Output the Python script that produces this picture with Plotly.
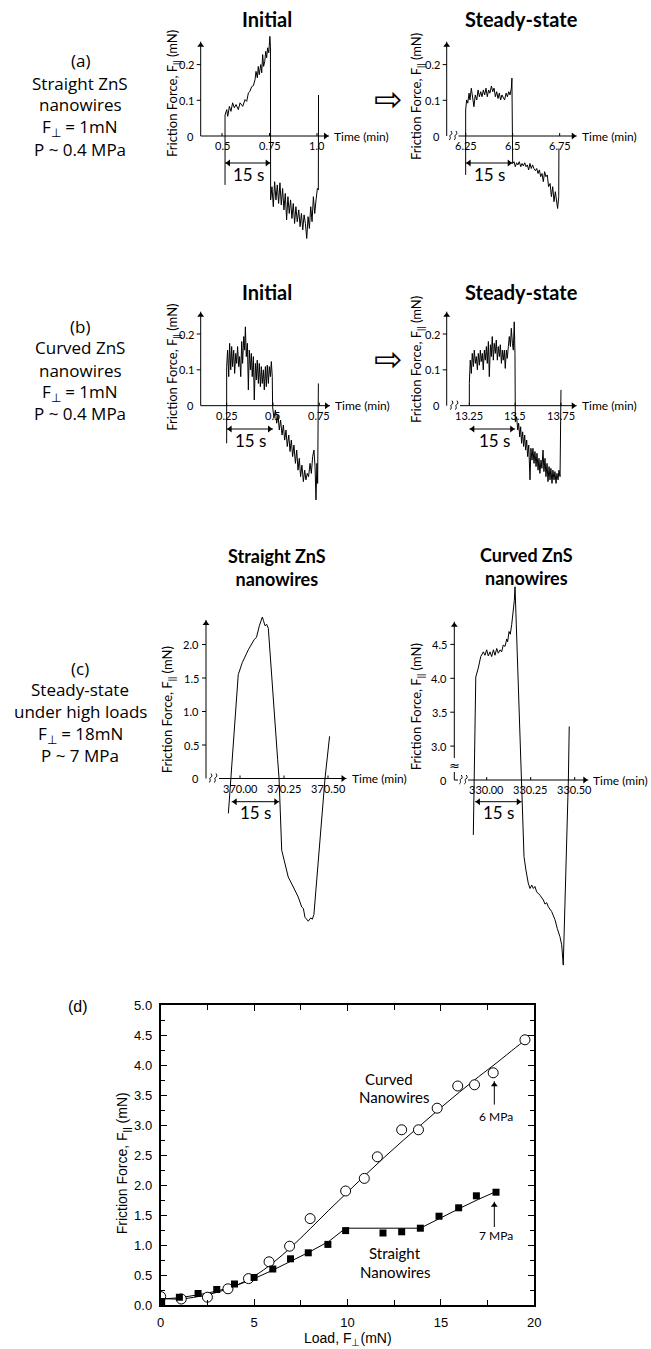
import math
import plotly.graph_objects as go

W, H = 651, 1349
TXT = "Lato, 'Open Sans', sans-serif"
BODY = "'Open Sans', Lato, sans-serif"
ARIAL = "'Liberation Sans', Arial, sans-serif"
SYM = "'DejaVu Sans', sans-serif"
BLACK = "black"

# ---------------- data ----------------
# (a) straight ZnS nanowires, F_perp = 1 mN : friction force (mN) vs time (min)
a_init_time = [0.516, 0.516, 0.525, 0.530, 0.539, 0.547, 0.556, 0.565, 0.574, 0.586, 0.595, 0.609, 0.621, 0.630,
               0.639, 0.647, 0.656, 0.665, 0.674, 0.679, 0.686, 0.691, 0.696, 0.704, 0.709, 0.714, 0.719, 0.725,
               0.730, 0.735, 0.740, 0.746, 0.752, 0.755, 0.756, 0.763, 0.770, 0.777, 0.784, 0.791, 0.798, 0.805,
               0.812, 0.819, 0.826, 0.833, 0.840, 0.847, 0.854, 0.861, 0.868, 0.875, 0.882, 0.889, 0.896, 0.904,
               0.911, 0.918, 0.925, 0.932, 0.939, 0.946, 0.953, 0.960, 0.967, 0.974, 0.981, 0.988, 0.995, 1.002,
               1.007, 1.008]
a_init_force = [-0.137, 0.059, 0.074, 0.055, 0.083, 0.069, 0.093, 0.079, 0.088, 0.074, 0.093, 0.083, 0.102, 0.097,
                0.121, 0.125, 0.138, 0.141, 0.158, 0.181, 0.163, 0.195, 0.172, 0.200, 0.177, 0.228, 0.195, 0.209,
                0.237, 0.219, 0.247, 0.233, 0.279, 0.250, -0.179, -0.142, -0.198, -0.128, -0.179, -0.137, -0.189,
                -0.131, -0.193, -0.147, -0.207, -0.161, -0.235, -0.170, -0.217, -0.179, -0.231, -0.189, -0.245,
                -0.198, -0.240, -0.207, -0.254, -0.217, -0.263, -0.221, -0.245, -0.287, -0.226, -0.259, -0.198,
                -0.240, -0.170, -0.217, -0.179, -0.147, -0.151, 0.115]
a_steady_time = [6.250, 6.250, 6.255, 6.261, 6.268, 6.273, 6.280, 6.287, 6.294, 6.301, 6.309, 6.316, 6.323, 6.330,
                 6.337, 6.344, 6.351, 6.358, 6.365, 6.372, 6.379, 6.387, 6.394, 6.401, 6.408, 6.415, 6.422, 6.429,
                 6.436, 6.443, 6.450, 6.457, 6.465, 6.472, 6.479, 6.486, 6.493, 6.496, 6.500, 6.507, 6.514, 6.521,
                 6.528, 6.535, 6.543, 6.550, 6.557, 6.564, 6.571, 6.578, 6.585, 6.592, 6.599, 6.606, 6.613, 6.621,
                 6.628, 6.635, 6.642, 6.649, 6.656, 6.663, 6.670, 6.677, 6.684, 6.691, 6.699, 6.706, 6.713, 6.720,
                 6.727, 6.734, 6.739, 6.745, 6.746]
a_steady_force = [-0.109, 0.073, 0.101, 0.092, 0.120, 0.101, 0.134, 0.105, 0.082, 0.115, 0.101, 0.129, 0.110, 0.124,
                  0.110, 0.129, 0.115, 0.134, 0.110, 0.129, 0.120, 0.140, 0.124, 0.134, 0.110, 0.124, 0.105, 0.120,
                  0.101, 0.115, 0.105, 0.101, 0.120, 0.110, 0.124, 0.115, 0.134, 0.162, -0.077, -0.072, -0.086,
                  -0.075, -0.081, -0.072, -0.086, -0.077, -0.084, -0.075, -0.086, -0.081, -0.095, -0.077, -0.091,
                  -0.081, -0.091, -0.097, -0.091, -0.105, -0.095, -0.114, -0.105, -0.128, -0.100, -0.114, -0.109,
                  -0.142, -0.133, -0.170, -0.142, -0.184, -0.156, -0.177, -0.203, -0.170, -0.035]

# (b) curved ZnS nanowires, F_perp = 1 mN
b_init_time = [0.250, 0.250, 0.255, 0.261, 0.266, 0.272, 0.277, 0.282, 0.288, 0.293, 0.299, 0.304, 0.309, 0.315,
               0.320, 0.326, 0.331, 0.336, 0.342, 0.347, 0.351, 0.356, 0.362, 0.367, 0.372, 0.378, 0.383, 0.388,
               0.394, 0.399, 0.405, 0.410, 0.415, 0.421, 0.426, 0.432, 0.437, 0.442, 0.448, 0.453, 0.459, 0.464,
               0.469, 0.475, 0.480, 0.486, 0.491, 0.496, 0.498, 0.505, 0.513, 0.520, 0.527, 0.534, 0.541, 0.549,
               0.556, 0.563, 0.570, 0.577, 0.585, 0.592, 0.599, 0.606, 0.613, 0.621, 0.628, 0.635, 0.642, 0.649,
               0.656, 0.664, 0.671, 0.678, 0.685, 0.692, 0.700, 0.707, 0.714, 0.721, 0.727, 0.732, 0.737, 0.741,
               0.745]
b_init_force = [-0.105, 0.109, 0.155, 0.081, 0.174, 0.100, 0.165, 0.109, 0.155, 0.090, 0.146, 0.118, 0.165, 0.109,
                0.137, 0.081, 0.179, 0.118, 0.193, 0.155, 0.220, 0.137, 0.174, 0.044, 0.155, 0.100, 0.146, 0.081,
                0.137, 0.016, 0.118, 0.072, 0.127, 0.062, 0.118, 0.053, 0.109, 0.062, 0.100, 0.044, 0.109, 0.053,
                0.113, 0.062, 0.109, 0.081, 0.123, 0.081, -0.003, -0.035, -0.012, -0.049, -0.026, -0.068, -0.040,
                -0.082, -0.054, -0.096, -0.068, -0.114, -0.082, -0.128, -0.096, -0.142, -0.110, -0.161, -0.124,
                -0.180, -0.147, -0.198, -0.166, -0.212, -0.180, -0.207, -0.189, -0.198, -0.161, -0.189, -0.142,
                -0.124, -0.170, -0.263, -0.161, -0.217, 0.062]
b_steady_time = [13.250, 13.250, 13.255, 13.261, 13.266, 13.272, 13.277, 13.283, 13.288, 13.294, 13.299, 13.305,
                 13.310, 13.315, 13.321, 13.326, 13.332, 13.337, 13.343, 13.348, 13.354, 13.359, 13.365, 13.370,
                 13.375, 13.381, 13.386, 13.392, 13.397, 13.403, 13.408, 13.414, 13.419, 13.425, 13.430, 13.435,
                 13.441, 13.446, 13.452, 13.457, 13.463, 13.468, 13.474, 13.479, 13.485, 13.490, 13.495, 13.499,
                 13.501, 13.508, 13.514, 13.519, 13.525, 13.530, 13.535, 13.541, 13.546, 13.552, 13.557, 13.563,
                 13.568, 13.574, 13.581, 13.586, 13.592, 13.597, 13.603, 13.608, 13.614, 13.619, 13.625, 13.630,
                 13.635, 13.641, 13.646, 13.652, 13.657, 13.663, 13.668, 13.674, 13.679, 13.685, 13.690, 13.695,
                 13.701, 13.706, 13.712, 13.717, 13.723, 13.728, 13.734, 13.739, 13.745, 13.750]
b_steady_force = [0.000, 0.062, 0.127, 0.090, 0.146, 0.109, 0.155, 0.118, 0.137, 0.100, 0.146, 0.113, 0.155, 0.123,
                  0.146, 0.100, 0.155, 0.127, 0.165, 0.118, 0.179, 0.081, 0.170, 0.137, 0.193, 0.127, 0.174, 0.146,
                  0.183, 0.127, 0.165, 0.137, 0.170, 0.118, 0.155, 0.127, 0.155, 0.104, 0.155, 0.132, 0.165, 0.193,
                  0.165, 0.216, 0.174, 0.155, 0.234, 0.146, -0.045, -0.031, -0.068, -0.049, -0.087, -0.059, -0.105,
                  -0.073, -0.114, -0.082, -0.124, -0.096, -0.142, -0.110, -0.207, -0.119, -0.152, -0.119, -0.161,
                  -0.128, -0.170, -0.133, -0.180, -0.147, -0.189, -0.152, -0.175, -0.124, -0.184, -0.147, -0.198,
                  -0.161, -0.212, -0.170, -0.207, -0.175, -0.217, -0.180, -0.207, -0.184, -0.217, -0.189, -0.207,
                  -0.180, -0.198, 0.044]

# (c) steady state under high loads, F_perp = 18 mN
c_straight_time = [369.934, 369.990, 370.013, 370.047, 370.080, 370.094, 370.110, 370.127, 370.133, 370.142,
                   370.152, 370.161, 370.214, 370.222, 370.237, 370.246, 370.274, 370.303, 370.331, 370.351,
                   370.360, 370.369, 370.388, 370.402, 370.411, 370.420, 370.464, 370.483, 370.509]
c_straight_force = [-0.52, 1.55, 1.73, 1.92, 2.07, 2.11, 2.28, 2.41, 2.36, 2.28, 2.30, 2.24, 0.28, 0.00, -1.07,
                    -1.17, -1.47, -1.62, -1.77, -1.92, -1.94, -2.07, -2.13, -2.08, -2.10, -2.03, -0.52, 0.00, 0.63]
c_curved_time = [329.924, 329.938, 329.952, 329.966, 329.981, 329.990, 330.000, 330.009, 330.019, 330.028,
                 330.038, 330.047, 330.057, 330.066, 330.076, 330.085, 330.094, 330.104, 330.114, 330.119,
                 330.127, 330.134, 330.142, 330.151, 330.157, 330.161, 330.199, 330.205, 330.212, 330.223,
                 330.236, 330.246, 330.256, 330.265, 330.274, 330.284, 330.303, 330.322, 330.331, 330.341,
                 330.350, 330.369, 330.388, 330.401, 330.416, 330.426, 330.435, 330.464, 330.469]
c_curved_force = [-0.81, 4.02, 4.15, 4.32, 4.39, 4.34, 4.42, 4.33, 4.39, 4.32, 4.42, 4.34, 4.44, 4.37, 4.42, 4.39,
                  4.49, 4.47, 4.58, 4.54, 4.69, 4.65, 4.79, 4.96, 5.15, 5.35, 0.00, -0.69, -1.13, -1.33, -1.52,
                  -1.60, -1.55, -1.60, -1.57, -1.65, -1.70, -1.77, -1.83, -1.81, -1.87, -1.94, -2.06, -2.19,
                  -2.31, -2.43, -2.73, 0.00, 3.29]
C_CURVED_BREAK = 2.5          # the curved panel's y axis skips 0 .. 2.5 mN
c_curved_ticks = [3.0, 3.5, 4.0, 4.5]
c_straight_ticks = [0.5, 1.0, 1.5, 2.0]

# (d) friction force vs load
d_curved_load = [0.0, 1.1, 2.5, 3.6, 4.7, 5.8, 6.9, 8.0, 9.9, 10.9, 11.6, 12.9, 13.8, 14.8, 15.9, 16.8, 17.8, 19.5]
d_curved_friction = [0.14, 0.10, 0.13, 0.27, 0.44, 0.72, 0.98, 1.44, 1.90, 2.11, 2.47, 2.92, 2.92, 3.28, 3.65,
                     3.67, 3.87, 4.42]
d_straight_load = [0.05, 1.0, 2.0, 3.0, 3.95, 5.0, 6.0, 6.95, 7.9, 8.95, 9.9, 11.9, 12.9, 13.9, 14.9, 15.95,
                   16.9, 17.95]
d_straight_friction = [0.06, 0.13, 0.19, 0.26, 0.35, 0.46, 0.60, 0.77, 0.87, 1.01, 1.24, 1.20, 1.22, 1.28, 1.48,
                       1.62, 1.82, 1.88]
d_curved_fit_load = [0, 1, 2, 3, 4, 5, 6, 7, 8, 9, 10, 11, 12, 13, 14, 15, 16, 17, 18, 19, 19.5]
d_curved_fit_friction = [0.11, 0.10, 0.14, 0.21, 0.32, 0.48, 0.70, 0.97, 1.27, 1.58, 1.88, 2.18, 2.47, 2.75,
                         3.02, 3.29, 3.55, 3.80, 4.04, 4.29, 4.41]
d_straight_fit_load = [0, 1, 2, 3, 4, 5, 6, 7, 8, 9, 9.9, 13.9, 15, 16, 17, 17.95]
d_straight_fit_friction = [0.10, 0.12, 0.17, 0.23, 0.32, 0.44, 0.58, 0.73, 0.89, 1.06, 1.28, 1.28, 1.46, 1.61,
                           1.76, 1.89]

# ---------------- figure ----------------
fig = go.Figure()
P = {}
HEADS = {}
HEAD_SIZE = 6


def refs(n):
    return ("x" if n == 1 else f"x{n}"), ("y" if n == 1 else f"y{n}")


def panel(n, box, xref_px, xref_val, xppu, yref_px, yref_val, yppu, visible=False):
    L, R, T, B = box
    xr, yr = refs(n)
    P[n] = (xref_px, xref_val, xppu, yref_px, yref_val, yppu)
    HEADS[n] = []
    if not visible:
        fig.update_layout({
            ("xaxis" if n == 1 else f"xaxis{n}"): dict(
                domain=[L / W, R / W], anchor=yr, visible=False, fixedrange=True,
                range=[xref_val + (L - xref_px) / xppu, xref_val + (R - xref_px) / xppu]),
            ("yaxis" if n == 1 else f"yaxis{n}"): dict(
                domain=[1 - B / H, 1 - T / H], anchor=xr, visible=False, fixedrange=True,
                range=[yref_val - (B - yref_px) / yppu, yref_val + (yref_px - T) / yppu]),
        })


def X(n, px):
    a, v, s = P[n][0:3]
    return v + (px - a) / s


def Y(n, py):
    a, v, s = P[n][3:6]
    return v + (a - py) / s


def ptext(px, py, text, size, family=TXT, bold=False, angle=0, xanchor="center"):
    fig.add_annotation(xref="paper", yref="paper", x=px / W, y=1 - py / H,
                       text=f"<b>{text}</b>" if bold else text, showarrow=False,
                       font=dict(family=family, size=size, color=BLACK),
                       xanchor=xanchor, yanchor="middle", textangle=angle)


def dtext(n, x, y, text, size, family=TXT, xanchor="center", yanchor="middle", xshift=0, yshift=0):
    xr, yr = refs(n)
    fig.add_annotation(xref=xr, yref=yr, x=x, y=y, text=text, showarrow=False,
                       font=dict(family=family, size=size, color=BLACK),
                       xanchor=xanchor, yanchor=yanchor, xshift=xshift, yshift=yshift)


def seg(n, x0, y0, x1, y1):
    xr, yr = refs(n)
    fig.add_shape(type="line", xref=xr, yref=yr, x0=x0, y0=y0, x1=x1, y1=y1,
                  line=dict(color=BLACK, width=1))


def head(n, x_tip, y_tip, x_from, y_from):
    # triangular arrowhead whose apex sits on (x_tip, y_tip)
    xppu, yppu = P[n][2], P[n][5]
    dx, dy = (x_tip - x_from) * xppu, (y_tip - y_from) * yppu
    L = math.hypot(dx, dy)
    ux, uy = dx / L, dy / L
    back = HEAD_SIZE / math.sqrt(3)
    ang = math.degrees(math.atan2(ux, uy))
    HEADS[n].append((x_tip - ux * back / xppu, y_tip - uy * back / yppu, ang))


def arrow(n, x_tip, y_tip, x_base, y_base, both=False):
    seg(n, x_base, y_base, x_tip, y_tip)
    head(n, x_tip, y_tip, x_base, y_base)
    if both:
        head(n, x_base, y_base, x_tip, y_tip)


def axis_break(n, x, y):
    # two small squiggles marking a broken time axis
    xr, yr = refs(n)
    for dx in (-2.5, 2.5):
        path = (f"M {dx - 1.5},-4 C {dx + 1.5},-2 {dx - 2},0 {dx},1 "
                f"S {dx + 1.5},3 {dx + 0.5},5")
        fig.add_shape(type="path", xref=xr, yref=yr, xsizemode="pixel", ysizemode="pixel",
                      xanchor=x, yanchor=y, path=path, line=dict(color=BLACK, width=1))


def top_axes(n, yaxis_px, ytip_py, ybase_py, xstart_px, xtip_px, yvals, ytext, xvals, xtext, fs=11):
    xr, yr = refs(n)
    xa = X(n, yaxis_px)
    arrow(n, xa, Y(n, ytip_py), xa, Y(n, ybase_py))
    arrow(n, X(n, xtip_px), 0, X(n, xstart_px), 0)
    for v, s in zip(yvals, ytext):
        fig.add_shape(type="line", xref=xr, yref=yr, xsizemode="pixel", xanchor=xa, x0=-4, x1=0, y0=v, y1=v,
                      line=dict(color=BLACK, width=1))
        dtext(n, xa, v, s, fs, xanchor="right", xshift=-5)
    dtext(n, xa, 0, "0", fs, xanchor="right", xshift=-5)
    for t, s in zip(xvals, xtext):
        fig.add_shape(type="line", xref=xr, yref=yr, ysizemode="pixel", yanchor=0, y0=0, y1=3, x0=t, x1=t,
                      line=dict(color=BLACK, width=1))
        dtext(n, t, 0, s, fs, yanchor="top", yshift=-1)
    dtext(n, X(n, xtip_px), 0, "Time (min)", 12, xanchor="left", xshift=3)


def trace(n, x, y, width=1):
    xr, yr = refs(n)
    fig.add_trace(go.Scatter(x=x, y=y, mode="lines", line=dict(color=BLACK, width=width),
                             xaxis=xr, yaxis=yr, showlegend=False, hoverinfo="skip"))


def span15(n, t0, t1, py_arrow, px_lab, py_lab):
    arrow(n, t1, Y(n, py_arrow), t0, Y(n, py_arrow), both=True)
    dtext(n, X(n, px_lab), Y(n, py_lab), "15 s", 17)


YT = "Friction Force, F<sub>||</sub> (mN)"

# ---- (a) initial ----
panel(1, (185, 350, 30, 250), 222, 0.5, 190, 136, 0.0, 357)
trace(1, a_init_time, a_init_force)
top_axes(1, 200.7, 41.7, 136, 200.7, 329, [0.1, 0.2], ["0.1", "0.2"], [0.5, 0.75, 1.0], ["0.5", "0.75", "1.0"])
span15(1, 0.516, 0.756, 163, 248.3, 174)

# ---- (a) steady ----
panel(2, (430, 600, 30, 250), 465.67, 6.25, 188, 136, 0.0, 357)
trace(2, a_steady_time, a_steady_force)
top_axes(2, 446.7, 41.7, 136, 458.5, 576.7, [0.1, 0.2], ["0.1", "0.2"], [6.25, 6.5, 6.75], ["6.25", "6.5", "6.75"])
axis_break(2, X(2, 453), 0)
span15(2, 6.25, 6.5, 163, 490, 174)

# ---- (b) initial ----
panel(3, (185, 350, 300, 520), 226.67, 0.25, 185.3, 405.67, 0.0, 358.3)
trace(3, b_init_time, b_init_force)
top_axes(3, 200.7, 311.7, 405.67, 200.7, 330, [0.1, 0.2], ["0.1", "0.2"], [0.25, 0.5, 0.75], ["0.25", "0.5", "0.75"])
span15(3, 0.25, 0.5, 429, 250, 440)

# ---- (b) steady ----
panel(4, (430, 600, 300, 520), 469.33, 13.25, 183.3, 405.67, 0.0, 358.3)
trace(4, b_steady_time, b_steady_force)
top_axes(4, 446.7, 311.7, 405.67, 460, 576.7, [0.1, 0.2], ["0.1", "0.2"], [13.25, 13.5, 13.75],
         ["13.25", "13.5", "13.75"])
axis_break(4, X(4, 454), 0)
span15(4, 13.25, 13.5, 429, 495, 440)

# ---- (c) straight ----
panel(5, (185, 350, 590, 940), 240, 370.0, 176, 778.5, 0.0, 67)
trace(5, c_straight_time, c_straight_force)
top_axes(5, 206, 620, 778.5, 219, 346.5, c_straight_ticks, [f"{v:.1f}" for v in c_straight_ticks],
         [370.0, 370.25, 370.5], ["370.00", "370.25", "370.50"])
axis_break(5, X(5, 213), 0)
span15(5, X(5, 231.7), X(5, 279.3), 801.7, 255, 812)

# ---- (c) curved (broken y axis) ----
panel(6, (430, 600, 575, 985), 486.7, 330.0, 176, 780, 0.0, 67.8)
c_curved_disp = [v - C_CURVED_BREAK if v > C_CURVED_BREAK else v for v in c_curved_force]
trace(6, c_curved_time, c_curved_disp)
top_axes(6, 454.3, 621.7, 758, 468, 588.3, [v - C_CURVED_BREAK for v in c_curved_ticks],
         [f"{v:.1f}" for v in c_curved_ticks], [330.0, 330.25, 330.5], ["330.00", "330.25", "330.50"])
seg(6, X(6, 454.3), Y(6, 772), X(6, 454.3), 0)
seg(6, X(6, 454.3), 0, X(6, 458), 0)
dtext(6, X(6, 454.3), Y(6, 765), "≈", 13, family=SYM)
axis_break(6, X(6, 463.3), 0)
span15(6, X(6, 475), X(6, 521.7), 801.7, 498.3, 812)

# ---- text of the top panels ----
for px, py, s in [(267, 19, "Initial"), (521.7, 19, "Steady-state"), (267, 291.7, "Initial"),
                  (521.7, 291.7, "Steady-state")]:
    ptext(px, py, s, 20, bold=True)
ptext(276.7, 567.5, "Straight ZnS<br>nanowires", 18, bold=True)
ptext(526.7, 566.5, "Curved ZnS<br>nanowires", 18, bold=True)

for py, s in [(61, "(a)"), (83.5, "Straight ZnS"), (104.5, "nanowires"), (127, "F<sub>⊥</sub> = 1mN"),
              (149, "P ~ 0.4 MPa"),
              (326, "(b)"), (347.7, "Curved ZnS"), (370.7, "nanowires"), (392.3, "F<sub>⊥</sub> = 1mN"),
              (413.3, "P ~ 0.4 MPa"),
              (668.3, "(c)"), (689.3, "Steady-state"), (711.7, "under high loads"),
              (734, "F<sub>⊥</sub> = 18mN"), (755, "P ~ 7 MPa")]:
    ptext(80, py, s, 17, family=BODY)

for px, py in [(173, 93), (417, 97), (173, 366.7), (417, 360), (168.3, 710), (417.3, 707)]:
    ptext(px, py, YT, 13, angle=-90)

ptext(388.3, 99, "⇨", 34, family=SYM)
ptext(388.3, 359, "⇨", 34, family=SYM)

# ---- (d) ----
panel(7, (160.7, 534.3, 1005, 1305), 160.7, 0.0, (534.3 - 160.7) / 20, 1305, 0.0, 300 / 5, visible=True)
xr7, yr7 = refs(7)
fig.add_trace(go.Scatter(x=d_curved_fit_load, y=d_curved_fit_friction, mode="lines",
                         line=dict(color=BLACK, width=1, shape="spline"), xaxis=xr7, yaxis=yr7,
                         showlegend=False, hoverinfo="skip"))
fig.add_trace(go.Scatter(x=d_straight_fit_load, y=d_straight_fit_friction, mode="lines",
                         line=dict(color=BLACK, width=1), xaxis=xr7, yaxis=yr7,
                         showlegend=False, hoverinfo="skip"))
fig.add_trace(go.Scatter(x=d_curved_load, y=d_curved_friction, mode="markers", name="Curved Nanowires",
                         marker=dict(symbol="circle", size=10, color="white", line=dict(color=BLACK, width=1)),
                         xaxis=xr7, yaxis=yr7, showlegend=False))
fig.add_trace(go.Scatter(x=d_straight_load, y=d_straight_friction, mode="markers", name="Straight Nanowires",
                         marker=dict(symbol="square", size=7, color=BLACK), xaxis=xr7, yaxis=yr7,
                         showlegend=False))

axis_common = dict(ticks="inside", ticklen=6, tickwidth=1.2, tickcolor=BLACK, showline=True, linecolor=BLACK,
                   linewidth=1.8, mirror="ticks", showgrid=False, zeroline=False, fixedrange=True,
                   tickfont=dict(family=ARIAL, size=13, color=BLACK), ticklabelstandoff=4)
fig.update_layout(
    xaxis7=dict(domain=[160.7 / W, 534.3 / W], range=[0, 20], anchor="y7", tickvals=[0, 5, 10, 15, 20],
                minor=dict(tickvals=[2.5, 7.5, 12.5, 17.5], ticks="inside", ticklen=5, tickcolor=BLACK,
                           tickwidth=1.2), **axis_common),
    yaxis7=dict(domain=[1 - 1305 / H, 1 - 1005 / H], range=[0, 5], anchor="x7",
                tickvals=[i * 0.5 for i in range(11)], tickformat=".1f",
                minor=dict(tickvals=[0.25 + i * 0.5 for i in range(10)], ticks="inside", ticklen=4,
                           tickcolor=BLACK, tickwidth=1.2), **axis_common),
)
ptext(78.3, 1006.7, "(d)", 16, family=ARIAL)
ptext(123.3, 1163, "Friction Force, F<sub>||</sub> (mN)", 14, family=ARIAL, angle=-90)
ptext(348, 1339, "Load, F<sub>⊥</sub>(mN)", 14, family=ARIAL)

dtext(7, 12.24, 3.77, "Curved", 15)
dtext(7, 12.5, 3.46, "Nanowires", 15)
dtext(7, 12.54, 0.86, "Straight", 15)
dtext(7, 12.54, 0.545, "Nanowires", 15)
dtext(7, 17.93, 3.15, "6 MPa", 12)
dtext(7, 17.93, 1.16, "7 MPa", 12)
arrow(7, 17.86, 3.73, 17.86, 3.34)
arrow(7, 17.86, 1.72, 17.86, 1.30)

# arrowheads of all panels
for n, heads in HEADS.items():
    if not heads:
        continue
    xr, yr = refs(n)
    fig.add_trace(go.Scatter(x=[h[0] for h in heads], y=[h[1] for h in heads], mode="markers",
                             marker=dict(symbol="triangle-up", size=HEAD_SIZE, color=BLACK,
                                         angle=[h[2] for h in heads], line=dict(width=0)),
                             xaxis=xr, yaxis=yr, showlegend=False, hoverinfo="skip", cliponaxis=False))

fig.update_layout(width=W, height=H, autosize=False, margin=dict(l=0, r=0, t=0, b=0),
                  paper_bgcolor="white", plot_bgcolor="rgba(0,0,0,0)", template="none",
                  font=dict(family=TXT, color=BLACK))

fig.write_html("out.html", config={"displayModeBar": False},
               post_script="document.body.style.margin='0px';")
